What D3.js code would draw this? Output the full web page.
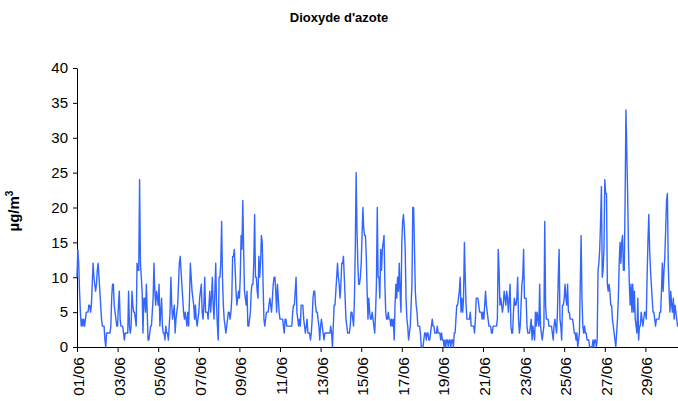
<!DOCTYPE html>
<html>
<head>
<meta charset="utf-8">
<script src="https://cdn.jsdelivr.net/npm/d3@7"></script>
<style>
    body { margin: 0; background: #fff; }
    svg { display: block; font-family: "Liberation Sans", Arial, sans-serif; }
</style>
</head>
<body>
<div id="chart"></div>
<script>
"use strict";

// hourly NO2 values, one row per day of June (µg/m3)
const day01 = [10, 14, 12, 8, 5, 3, 4, 3, 4, 3, 4, 5, 5, 5, 6, 6, 5, 6, 9, 12, 10, 9, 8, 9];
const day02 = [11, 12, 10, 8, 6, 4, 3, 3, 3, 1, 0, 2, 2, 2, 2, 2, 3, 7, 9, 9, 6, 5, 4, 3];
const day03 = [3, 6, 8, 4, 3, 3, 3, 2, 1, 2, 2, 2, 2, 8, 3, 2, 3, 8, 6, 5, 5, 4, 3, 12];
const day04 = [11, 11, 24, 12, 10, 8, 2, 7, 7, 5, 9, 5, 1, 1, 2, 3, 3, 5, 7, 12, 8, 6, 8, 7];
const day05 = [6, 9, 3, 5, 7, 3, 2, 2, 1, 3, 2, 2, 1, 3, 5, 10, 6, 4, 5, 6, 2, 4, 5, 6];
const day06 = [9, 12, 13, 11, 9, 7, 5, 4, 5, 4, 3, 5, 3, 7, 12, 10, 8, 7, 6, 4, 6, 4, 3, 4];
const day07 = [5, 7, 8, 9, 5, 4, 6, 10, 5, 5, 5, 4, 6, 8, 5, 7, 10, 6, 4, 8, 12, 6, 3, 1];
const day08 = [10, 10, 12, 18, 10, 6, 4, 3, 2, 3, 4, 5, 5, 4, 5, 7, 13, 13, 14, 11, 8, 6, 7, 8];
const day09 = [7, 10, 16, 14, 21, 14, 8, 7, 6, 8, 3, 3, 4, 5, 8, 9, 9, 12, 19, 10, 10, 8, 7, 13];
const day10 = [10, 12, 16, 15, 9, 4, 3, 4, 5, 5, 5, 6, 7, 6, 5, 7, 9, 10, 10, 8, 5, 9, 7, 5];
const day11 = [4, 4, 4, 4, 3, 2, 4, 4, 3, 3, 3, 3, 3, 3, 3, 5, 6, 6, 8, 10, 5, 4, 3, 4];
const day12 = [3, 6, 6, 6, 4, 3, 2, 3, 4, 2, 2, 2, 1, 2, 4, 7, 8, 8, 6, 5, 5, 4, 3, 1];
const day13 = [3, 4, 3, 2, 1, 2, 2, 2, 2, 2, 2, 2, 3, 2, 0, 3, 6, 6, 8, 10, 12, 10, 9, 7];
const day14 = [9, 12, 12, 13, 10, 7, 4, 3, 2, 2, 2, 3, 5, 5, 4, 3, 7, 14, 25, 17, 12, 9, 9, 10];
const day15 = [12, 16, 20, 17, 16, 16, 13, 8, 4, 7, 5, 4, 4, 5, 4, 3, 2, 5, 9, 20, 10, 10, 7, 14];
const day16 = [11, 14, 15, 16, 9, 5, 4, 4, 5, 4, 4, 3, 4, 3, 4, 1, 6, 9, 7, 10, 8, 12, 8, 5];
const day17 = [15, 18, 19, 17, 14, 7, 4, 3, 1, 2, 3, 6, 9, 20, 20, 14, 8, 6, 5, 3, 3, 3, 2, 0];
const day18 = [0, 0, 1, 2, 2, 1, 2, 2, 1, 1, 2, 3, 4, 3, 3, 2, 2, 2, 3, 2, 2, 2, 1, 2];
const day19 = [1, 1, 0, 1, 0, 1, 1, 0, 1, 1, 0, 1, 1, 0, 2, 2, 4, 6, 6, 7, 8, 10, 5, 7];
const day20 = [5, 7, 15, 10, 6, 4, 4, 4, 4, 5, 3, 3, 3, 3, 2, 4, 7, 7, 7, 6, 5, 5, 5, 4];
const day21 = [5, 4, 6, 8, 6, 5, 4, 3, 3, 3, 2, 2, 3, 3, 3, 3, 3, 4, 14, 11, 6, 7, 6, 5];
const day22 = [6, 8, 7, 6, 8, 7, 5, 7, 9, 3, 2, 2, 5, 7, 6, 6, 7, 10, 4, 2, 3, 6, 9, 10];
const day23 = [14, 7, 7, 7, 3, 2, 2, 2, 3, 4, 1, 3, 2, 1, 5, 3, 5, 4, 3, 9, 3, 2, 1, 2];
const day24 = [3, 18, 6, 4, 4, 4, 3, 3, 3, 3, 2, 1, 3, 4, 3, 2, 5, 10, 14, 4, 3, 1, 6, 6];
const day25 = [7, 9, 7, 6, 9, 5, 5, 4, 4, 4, 4, 3, 2, 2, 1, 2, 0, 1, 2, 9, 16, 7, 3, 2];
const day26 = [3, 2, 2, 1, 1, 1, 0, 0, 0, 0, 1, 0, 1, 1, 0, 1, 11, 12, 14, 18, 23, 10, 11, 14];
const day27 = [24, 22, 22, 9, 8, 9, 8, 6, 6, 4, 3, 2, 1, 0, 2, 4, 7, 12, 15, 12, 15, 16, 11, 11];
const day28 = [21, 34, 28, 22, 14, 9, 6, 9, 5, 9, 5, 8, 4, 3, 2, 7, 1, 3, 3, 5, 4, 3, 4, 5];
const day29 = [5, 4, 10, 15, 19, 14, 11, 9, 7, 5, 5, 4, 3, 4, 4, 4, 4, 5, 5, 8, 12, 8, 11, 13];
const day30 = [17, 21, 22, 12, 8, 5, 8, 6, 5, 7, 4, 6, 5, 4, 3, 3, 4, 5, 6, 7, 8, 8, 7, 6];

const hourly = [day01, day02, day03, day04, day05, day06, day07, day08, day09, day10,
    day11, day12, day13, day14, day15, day16, day17, day18, day19, day20,
    day21, day22, day23, day24, day25, day26, day27, day28, day29, day30].flat();

// tick labels, one every two days
const dateLabels = ["01/06", "03/06", "05/06", "07/06", "09/06", "11/06", "13/06", "15/06",
    "17/06", "19/06", "21/06", "23/06", "25/06", "27/06", "29/06"];
const yTicks = [0, 5, 10, 15, 20, 25, 30, 35, 40];

const width = 678, height = 401;
const plotLeft = 77, plotTop = 68, plotBottom = 347;
const dayWidth = 20.3;

const svg = d3.select("#chart")
    .append("svg")
    .attr("width", width)
    .attr("height", height);

// scales
const x = d3.scaleLinear()
    .domain([0, hourly.length])
    .range([plotLeft, plotLeft + dayWidth * 30]);

const y = d3.scaleLinear()
    .domain([0, 40])
    .range([plotBottom, plotTop]);

// title
svg.append("text")
    .attr("x", 339)
    .attr("y", 22)
    .attr("text-anchor", "middle")
    .style("font-size", "13px")
    .style("font-weight", "bold")
    .text("Dioxyde d'azote");

// y axis label with superscript
const yLabel = svg.append("text")
    .attr("transform", "translate(19,211) rotate(-90)")
    .attr("text-anchor", "middle")
    .style("font-size", "15px")
    .style("font-weight", "bold");
yLabel.append("tspan").text("µg/m");
yLabel.append("tspan").attr("dy", "-6").style("font-size", "10px").text("3");

// y axis
const yAxis = svg.append("g")
    .attr("transform", `translate(${plotLeft},0)`)
    .call(d3.axisLeft(y).tickValues(yTicks).tickSize(4).tickPadding(5).tickSizeOuter(0));
yAxis.selectAll("text").style("font-size", "15px").style("fill", "#000");

// x axis, tick every 48 hours
const xAxis = svg.append("g")
    .attr("transform", `translate(0,${plotBottom})`)
    .call(d3.axisBottom(x)
        .tickValues(dateLabels.map((d, i) => i * 48))
        .tickFormat((d, i) => dateLabels[i])
        .tickSize(5)
        .tickSizeOuter(0));
xAxis.selectAll("text")
    .style("font-size", "15.5px")
    .style("fill", "#000")
    .attr("text-anchor", "end")
    .attr("transform", "rotate(-90)")
    .attr("x", -10)
    .attr("y", 1)
    .attr("dy", "0.35em");

svg.selectAll(".domain, .tick line").attr("stroke", "#000");

// the series
const line = d3.line()
    .x((d, i) => x(i))
    .y(d => y(d));

svg.append("path")
    .datum(hourly)
    .attr("fill", "none")
    .attr("stroke", "#3366ff")
    .attr("stroke-width", 1.4)
    .attr("stroke-linejoin", "round")
    .attr("d", line);
</script>
</body>
</html>
